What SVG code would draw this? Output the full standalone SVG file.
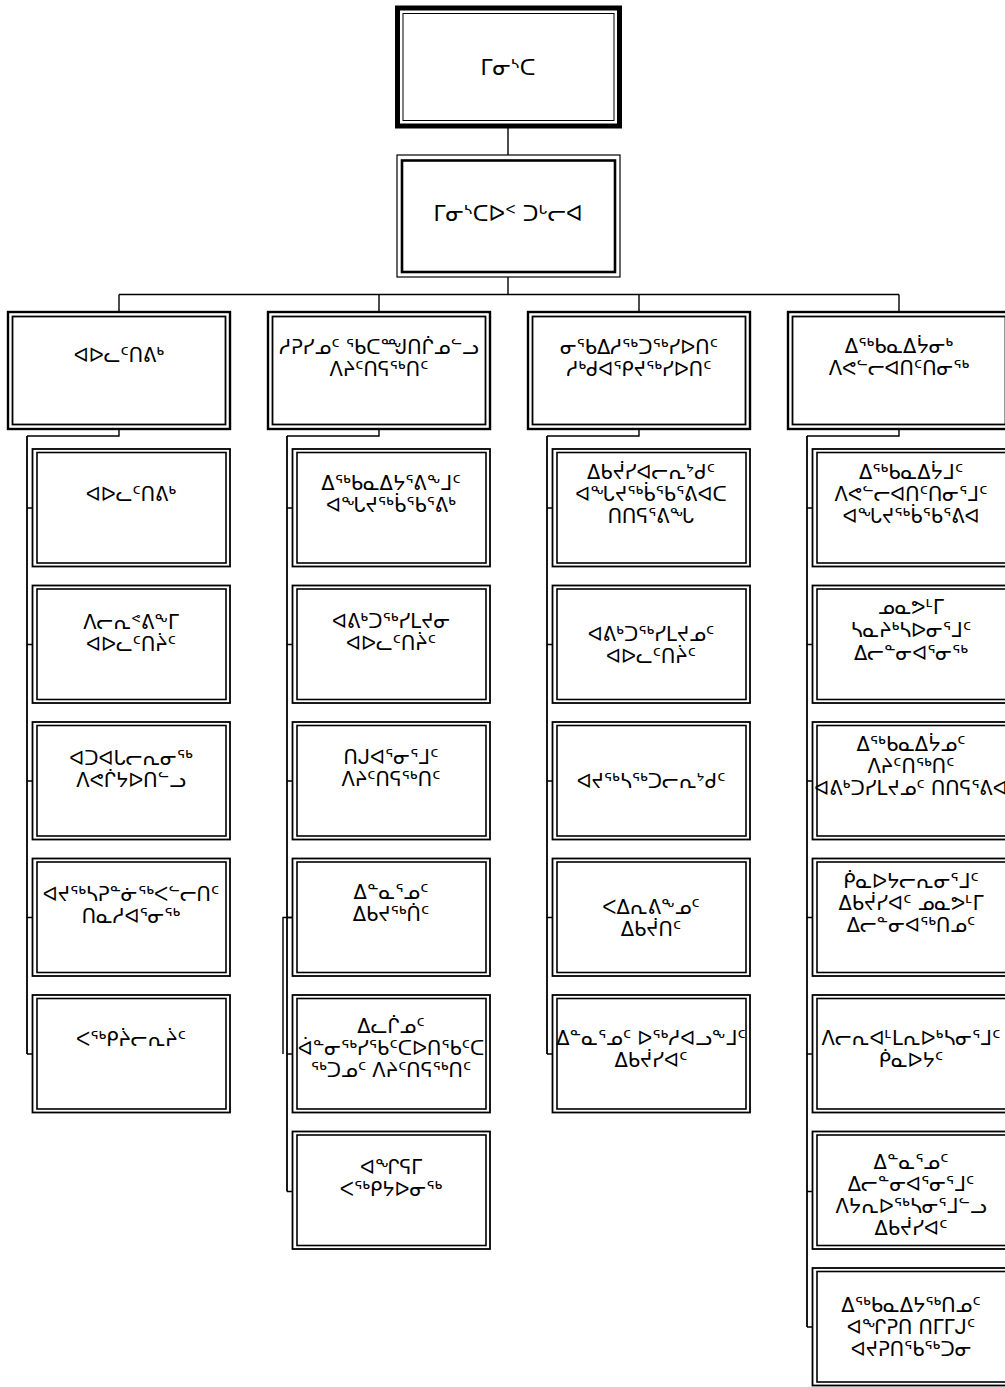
<svg xmlns="http://www.w3.org/2000/svg" width="1005" height="1387" viewBox="0 0 1005 1387">
<style>
.bg{fill:#fff}
.t{font-family:"DejaVu Sans",sans-serif;font-size:19.5px;fill:#000;text-anchor:middle}
.tb{font-size:21.5px}
.o{fill:none;stroke:#000;stroke-width:1.8}
.i{fill:none;stroke:#000;stroke-width:1.6}
.ho{fill:none;stroke:#000;stroke-width:2.4}
.hi{fill:none;stroke:#000;stroke-width:1.8}
.c{fill:none;stroke:#000;stroke-width:1.4}
.c2{fill:none;stroke:#000;stroke-width:1.8}
</style>
<rect class="bg" x="0" y="0" width="1005" height="1387"/>
<g id="connectors">
<path class="c" d="M508,128V155M508,277V294.5M119,294.5H899M119,294.5V312M379,294.5V312M639,294.5V312M899,294.5V312"/>
<path class="c" d="M119,429V436H27M379,429V436H287M639,429V436H547M899,429V436H807"/>
<path class="c2" d="M27,436V1054M287,436V1191.5M547,436V1054M807,436V1327"/>
<path class="c" d="M27,508H32.5M27,644.5H32.5M27,781H32.5M27,917.5H32.5M27,1054H32.5"/>
<path class="c" d="M287,508H292.5M287,644.5H292.5M287,781H292.5M287,917.5H292.5M287,1054H292.5M287,1191.5H292.5"/>
<path class="c" d="M292.5,917.5H283V1054"/>
<path class="c" d="M547,508H552.5M547,644.5H552.5M547,781H552.5M547,917.5H552.5M547,1054H552.5"/>
<path class="c" d="M807,508H812.5M807,644.5H812.5M807,781H812.5M807,917.5H812.5M807,1054H812.5M807,1191.5H812.5M807,1327H812.5"/>
</g>
<g id="n-top">
<rect x="397.5" y="8" width="222" height="118" fill="none" stroke="#000" stroke-width="5"/>
<rect x="403" y="13.5" width="211" height="107" fill="none" stroke="#000" stroke-width="1"/>
<text class="t tb" x="508" y="75">ᒥᓂᔅᑕ</text>
</g>
<g id="n-deputy">
<rect x="397" y="155" width="223" height="122" fill="none" stroke="#000" stroke-width="1.2"/>
<rect x="402" y="160.5" width="213" height="111.5" fill="none" stroke="#000" stroke-width="2.6"/>
<text class="t tb" x="508" y="221">ᒥᓂᔅᑕᐅᑉ ᑐᒡᓕᐊ</text>
</g>
<g id="h1"><rect class="ho" x="8" y="312" width="222" height="117"/><rect class="hi" x="12.5" y="316.5" width="213" height="108"/>
<text class="t" x="119" y="362">ᐊᐅᓚᑦᑎᕕᒃ</text></g>
<g id="h2"><rect class="ho" x="268" y="312" width="222" height="117"/><rect class="hi" x="272.5" y="316.5" width="213" height="108"/>
<text class="t" x="379" y="354">ᓱᕈᓯᓄᑦ ᖃᑕᙳᑎᒌᓄᓪᓗ</text><text class="t" x="379" y="376">ᐱᔨᑦᑎᕋᖅᑎᑦ</text></g>
<g id="h3"><rect class="ho" x="528" y="312" width="222" height="117"/><rect class="hi" x="532.5" y="316.5" width="213" height="108"/>
<text class="t" x="639" y="354">ᓂᖃᐃᓱᖅᑐᖅᓯᐅᑎᑦ</text><text class="t" x="639" y="376">ᓱᒃᑯᐊᕿᔪᖅᓯᐅᑎᑦ</text></g>
<g id="h4"><rect class="ho" x="788" y="312" width="222" height="117"/><rect class="hi" x="792.5" y="316.5" width="213" height="108"/>
<text class="t" x="899" y="353">ᐃᖅᑲᓇᐃᔮᓂᒃ</text><text class="t" x="899" y="375">ᐱᕙᓪᓕᐊᑎᑦᑎᓂᖅ</text></g>

<g id="c1-1"><rect class="o" x="32.5" y="449" width="197.5" height="117.5"/><rect class="i" x="37" y="452.5" width="189" height="110.5"/>
<text class="t" x="131" y="501">ᐊᐅᓚᑦᑎᕕᒃ</text></g>
<g id="c1-2"><rect class="o" x="32.5" y="585.5" width="197.5" height="117.5"/><rect class="i" x="37" y="589" width="189" height="110.5"/>
<text class="t" x="131" y="629">ᐱᓕᕆᕝᕕᖕᒥ</text><text class="t" x="131" y="651">ᐊᐅᓚᑦᑎᔩᑦ</text></g>
<g id="c1-3"><rect class="o" x="32.5" y="722" width="197.5" height="117.5"/><rect class="i" x="37" y="725.5" width="189" height="110.5"/>
<text class="t" x="131" y="765">ᐊᑐᐊᒐᓕᕆᓂᖅ</text><text class="t" x="131" y="787">ᐱᕙᒌᔭᐅᑎᓪᓗ</text></g>
<g id="c1-4"><rect class="o" x="32.5" y="858.5" width="197.5" height="117.5"/><rect class="i" x="37" y="862" width="189" height="110.5"/>
<text class="t" x="131" y="901">ᐊᔪᖅᓴᕈᓐᓃᖅᐸᓪᓕᑎᑦ</text><text class="t" x="131" y="923">ᑎᓇᓱᐊᕐᓂᖅ</text></g>
<g id="c1-5"><rect class="o" x="32.5" y="995" width="197.5" height="117.5"/><rect class="i" x="37" y="998.5" width="189" height="110.5"/>
<text class="t" x="131" y="1046">ᐸᖅᑭᔩᓕᕆᔩᑦ</text></g>

<g id="c2-1"><rect class="o" x="292.5" y="449" width="197.5" height="117.5"/><rect class="i" x="297" y="452.5" width="189" height="110.5"/>
<text class="t" x="391" y="490">ᐃᖅᑲᓇᐃᔭᕐᕕᖕᒧᑦ</text><text class="t" x="391" y="512">ᐊᖓᔪᖅᑳᖃᕐᕕᒃ</text></g>
<g id="c2-2"><rect class="o" x="292.5" y="585.5" width="197.5" height="117.5"/><rect class="i" x="297" y="589" width="189" height="110.5"/>
<text class="t" x="391" y="628">ᐊᕕᒃᑐᖅᓯᒪᔪᓂ</text><text class="t" x="391" y="650">ᐊᐅᓚᑦᑎᔩᑦ</text></g>
<g id="c2-3"><rect class="o" x="292.5" y="722" width="197.5" height="117.5"/><rect class="i" x="297" y="725.5" width="189" height="110.5"/>
<text class="t" x="391" y="764">ᑎᒍᐊᕐᓂᕐᒧᑦ</text><text class="t" x="391" y="786">ᐱᔨᑦᑎᕋᖅᑎᑦ</text></g>
<g id="c2-4"><rect class="o" x="292.5" y="858.5" width="197.5" height="117.5"/><rect class="i" x="297" y="862" width="189" height="110.5"/>
<text class="t" x="391" y="899">ᐃᓐᓇᕐᓄᑦ</text><text class="t" x="391" y="921">ᐃᑲᔪᖅᑏᑦ</text></g>
<g id="c2-5"><rect class="o" x="292.5" y="995" width="197.5" height="117.5"/><rect class="i" x="297" y="998.5" width="189" height="110.5"/>
<text class="t" x="391" y="1033">ᐃᓚᒌᓄᑦ</text><text class="t" x="391" y="1055">ᐋᓐᓂᖅᓯᖃᑦᑕᐅᑎᖃᑦᑕ</text><text class="t" x="391" y="1077">ᖅᑐᓄᑦ ᐱᔨᑦᑎᕋᖅᑎᑦ</text></g>
<g id="c2-6"><rect class="o" x="292.5" y="1131.5" width="197.5" height="117.5"/><rect class="i" x="297" y="1135" width="189" height="110.5"/>
<text class="t" x="391" y="1174">ᐊᖏᕋᒥ</text><text class="t" x="391" y="1196">ᐸᖅᑭᔭᐅᓂᖅ</text></g>

<g id="c3-1"><rect class="o" x="552.5" y="449" width="197.5" height="117.5"/><rect class="i" x="557" y="452.5" width="189" height="110.5"/>
<text class="t" x="651" y="479">ᐃᑲᔫᓯᐊᓕᕆᔾᑯᑦ</text><text class="t" x="651" y="501">ᐊᖓᔪᖅᑳᖃᕐᕕᐊᑕ</text><text class="t" x="651" y="523">ᑎᑎᕋᕐᕕᖓ</text></g>
<g id="c3-2"><rect class="o" x="552.5" y="585.5" width="197.5" height="117.5"/><rect class="i" x="557" y="589" width="189" height="110.5"/>
<text class="t" x="651" y="641">ᐊᕕᒃᑐᖅᓯᒪᔪᓄᑦ</text><text class="t" x="651" y="663">ᐊᐅᓚᑦᑎᔩᑦ</text></g>
<g id="c3-3"><rect class="o" x="552.5" y="722" width="197.5" height="117.5"/><rect class="i" x="557" y="725.5" width="189" height="110.5"/>
<text class="t" x="651" y="788">ᐊᔪᖅᓴᖅᑐᓕᕆᔾᑯᑦ</text></g>
<g id="c3-4"><rect class="o" x="552.5" y="858.5" width="197.5" height="117.5"/><rect class="i" x="557" y="862" width="189" height="110.5"/>
<text class="t" x="651" y="914">ᐸᐃᕆᕕᖕᓄᑦ</text><text class="t" x="651" y="936">ᐃᑲᔫᑎᑦ</text></g>
<g id="c3-5"><rect class="o" x="552.5" y="995" width="197.5" height="117.5"/><rect class="i" x="557" y="998.5" width="189" height="110.5"/>
<text class="t" x="651" y="1045">ᐃᓐᓇᕐᓄᑦ ᐅᖅᓱᐊᓗᖕᒧᑦ</text><text class="t" x="651" y="1067">ᐃᑲᔫᓯᐊᑦ</text></g>

<g id="c4-1"><rect class="o" x="812.5" y="449" width="197.5" height="117.5"/><rect class="i" x="817" y="452.5" width="189" height="110.5"/>
<text class="t" x="911" y="479">ᐃᖅᑲᓇᐃᔮᒧᑦ</text><text class="t" x="911" y="501">ᐱᕙᓪᓕᐊᑎᑦᑎᓂᕐᒧᑦ</text><text class="t" x="911" y="523">ᐊᖓᔪᖅᑳᖃᕐᕕᐊ</text></g>
<g id="c4-2"><rect class="o" x="812.5" y="585.5" width="197.5" height="117.5"/><rect class="i" x="817" y="589" width="189" height="110.5"/>
<text class="t" x="911" y="614">ᓄᓇᕗᒻᒥ</text><text class="t" x="911" y="637">ᓴᓇᔨᒃᓴᐅᓂᕐᒧᑦ</text><text class="t" x="911" y="660">ᐃᓕᓐᓂᐊᕐᓂᖅ</text></g>
<g id="c4-3"><rect class="o" x="812.5" y="722" width="197.5" height="117.5"/><rect class="i" x="817" y="725.5" width="189" height="110.5"/>
<text class="t" x="911" y="751">ᐃᖅᑲᓇᐃᔮᓄᑦ</text><text class="t" x="911" y="773">ᐱᔨᑦᑎᖅᑎᑦ</text><text class="t" x="911" y="795">ᐊᕕᒃᑐᓯᒪᔪᓄᑦ ᑎᑎᕋᕐᕕᐊ</text></g>
<g id="c4-4"><rect class="o" x="812.5" y="858.5" width="197.5" height="117.5"/><rect class="i" x="817" y="862" width="189" height="110.5"/>
<text class="t" x="911" y="888">ᑮᓇᐅᔭᓕᕆᓂᕐᒧᑦ</text><text class="t" x="911" y="910">ᐃᑲᔫᓯᐊᑦ ᓄᓇᕗᒻᒥ</text><text class="t" x="911" y="932">ᐃᓕᓐᓂᐊᖅᑎᓄᑦ</text></g>
<g id="c4-5"><rect class="o" x="812.5" y="995" width="197.5" height="117.5"/><rect class="i" x="817" y="998.5" width="189" height="110.5"/>
<text class="t" x="911" y="1045">ᐱᓕᕆᐊᒻᒪᕆᐅᒃᓴᓂᕐᒧᑦ</text><text class="t" x="911" y="1067">ᑮᓇᐅᔭᑦ</text></g>
<g id="c4-6"><rect class="o" x="812.5" y="1131.5" width="197.5" height="117.5"/><rect class="i" x="817" y="1135" width="189" height="110.5"/>
<text class="t" x="911" y="1169">ᐃᓐᓇᕐᓄᑦ</text><text class="t" x="911" y="1191">ᐃᓕᓐᓂᐊᕐᓂᕐᒧᑦ</text><text class="t" x="911" y="1213">ᐱᔭᕆᐅᖅᓴᓂᕐᒧᓪᓗ</text><text class="t" x="911" y="1235">ᐃᑲᔫᓯᐊᑦ</text></g>
<g id="c4-7"><rect class="o" x="812.5" y="1268" width="197.5" height="117.5"/><rect class="i" x="817" y="1271.5" width="189" height="110.5"/>
<text class="t" x="911" y="1312">ᐃᖅᑲᓇᐃᔭᖅᑎᓄᑦ</text><text class="t" x="911" y="1334">ᐊᖏᕈᑎ ᑎᒥᒥᒍᑦ</text><text class="t" x="911" y="1356">ᐊᔪᕈᑎᖃᖅᑐᓂ</text></g>
</svg>
